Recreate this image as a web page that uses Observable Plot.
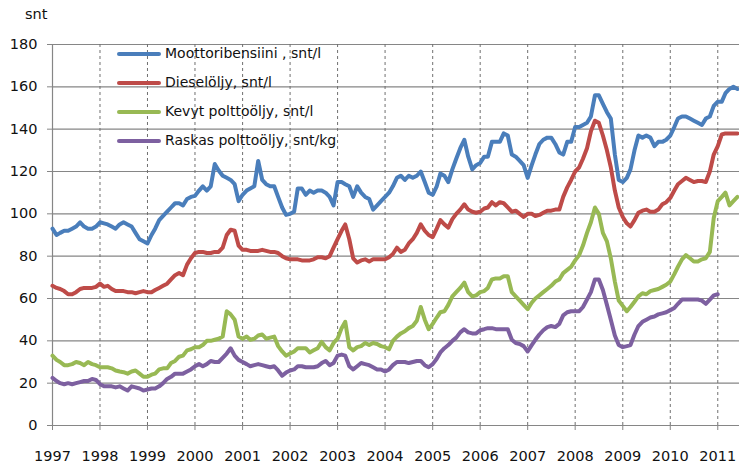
<!DOCTYPE html>
<html>
<head>
<meta charset="utf-8">
<script src="https://cdn.jsdelivr.net/npm/d3@7"></script>
<script src="https://cdn.jsdelivr.net/npm/@observablehq/plot@0.6"></script>
<style>
  html, body { margin: 0; padding: 0; background: #fff; }
  body { font-family: "DejaVu Sans", Verdana, sans-serif; color: #111; }
  #wrap { position: relative; width: 739px; height: 464px; overflow: hidden; }
  #unit { position: absolute; left: 25px; top: 6px; font-size: 14.5px; }
  .leg { position: absolute; left: 117px; height: 20px; line-height: 20px; font-size: 14px; white-space: nowrap; }
  .leg svg { position: absolute; left: 0; top: 8px; }
  .leg span { position: absolute; left: 48px; top: 0; }
</style>
</head>
<body>
<div id="wrap">
  <div id="unit">snt</div>
  <div id="legend"></div>
</div>
<script>
// ---- data (monthly, starting January 1997) ----
const seriesNames = [
  "Moottoribensiini , snt/l",
  "Dieselöljy, snt/l",
  "Kevyt polttoöljy, snt/l",
  "Raskas polttoöljy, snt/kg"
];
const seriesColors = ["#4A7EBB", "#BE4B48", "#98B954", "#7D60A0"];

const yTicks = [0, 20, 40, 60, 80, 100, 120, 140, 160, 180];
const yearLabels = [1997, 1998, 1999, 2000, 2001, 2002, 2003, 2004, 2005, 2006, 2007, 2008, 2009, 2010, 2011];

const bensiini = [
  93, 90, 91, 92, 92, 93, 94, 96, 94, 93, 93, 94,
  96, 95.5, 95, 94, 93, 95, 96, 95, 94, 91, 88, 87,
  86, 90, 93, 97, 99, 101, 103, 105, 105, 104, 107, 108,
  108.5, 111, 113, 111, 113, 123.5, 120.5, 118, 117, 116, 114, 106,
  109, 111, 112, 113, 125, 116, 114, 113, 113, 108, 103, 99.5,
  100, 101, 112, 112, 109, 111, 110, 111, 111, 110, 108, 104,
  115, 115, 114, 113, 108, 113, 110, 108, 107, 102, 104, 106,
  108, 110, 113, 117, 118, 116, 118, 117, 118, 120, 115, 110,
  109, 113, 119, 118, 115, 121, 126, 131, 135, 127, 121, 123,
  124, 127, 127, 134, 134, 134, 138, 137, 128, 127, 125, 123,
  117, 123, 128, 133, 135, 136, 136, 133, 129, 128, 134, 134,
  141, 141, 142, 143, 146, 156, 156, 152, 148, 145, 128, 116,
  115, 117, 121, 130, 137, 136, 137, 136, 132, 134, 134, 135,
  137, 141, 145, 146, 146, 145, 144, 143, 142, 145, 146, 151,
  153, 153, 157, 159, 160, 159
];
const diesel = [
  66, 65, 64.5, 63.5, 62, 62, 63, 64.5, 65, 65, 65, 65.5,
  67, 65.5, 66, 64.5, 63.5, 63.5, 63.5, 63, 63, 62.5, 63, 63.5,
  63, 63, 64, 65, 66, 67, 69, 71, 72, 71, 76, 79,
  81.5, 82, 82, 81.5, 81.5, 82, 82, 84, 90, 92.5, 92, 85,
  83, 83, 82.5, 82.5, 82.5, 83, 82.5, 82, 82, 81.5, 80, 79,
  78.5, 78.5, 78.5, 78, 78, 78, 78.5, 79.5, 79.5, 79, 80, 84,
  88, 92, 95, 88, 79, 77, 78, 78.5, 77.5, 78.5, 78.5, 78.5,
  78.5, 79.5, 81, 84, 82, 83, 86, 88, 91, 95, 92, 90,
  89, 93, 97, 95, 93.5, 97.5, 100, 102, 104.5, 102, 101, 100.5,
  101, 102.5, 103, 105.5, 104, 105.5, 105, 103, 101, 101.5, 100, 98.5,
  100, 100, 99, 99.5, 100.5, 101.5, 101.5, 102, 102, 108, 112.5, 116,
  120, 122, 126, 131, 139, 144, 143, 137, 130, 122, 111, 103,
  98.5, 95.5, 94, 97, 100.5, 101.5, 102, 101, 101, 102, 104.5, 105.5,
  107.5, 111, 114, 115.5, 117, 116, 115, 115.5, 115.5, 115, 120, 128,
  132, 137.5, 138, 138, 138, 138
];
const kevyt = [
  33, 31, 30, 28.5, 28.5, 29, 30, 29.5, 28.5, 30, 29, 28.5,
  27.5, 27.5, 27.5, 27, 26, 25.5, 25.2, 24.5, 25.5, 26, 24.5, 23,
  23, 24, 24.5, 26.5, 27, 27, 29.5, 30.5, 32.5, 33, 35.5, 36,
  37, 37, 38, 40, 40, 40.5, 41, 42, 54, 52.5, 50, 42,
  41, 42, 40.5, 41, 42.5, 43, 41, 41.5, 42, 37.5, 35, 33,
  34, 35, 36.5, 36.5, 36.5, 34.5, 35.5, 36.5, 39.5, 37, 35.5, 39,
  41, 46, 49, 37, 35.5, 37, 37.5, 39, 38, 39, 38.5, 37.5,
  37, 36, 40, 42, 43.5, 44.5, 46, 47, 49.5, 56, 50, 45.5,
  48, 51, 53.5, 54, 57, 61, 63, 65, 67.5, 63, 61, 61.5,
  63, 63.5, 65, 69, 69.5, 69.5, 70.5, 70.5, 63, 61, 59, 57,
  55, 58, 60, 61.5, 63, 64.5, 66, 68, 69, 72, 73.5, 75,
  78, 80.5, 85, 91, 96, 103, 100, 91, 87, 79, 68, 59,
  56.5, 54, 56, 58.5, 61, 62.5, 62, 63.5, 64, 64.5, 65.5, 66.5,
  68, 71.5, 75, 78.5, 80.5, 79, 77.5, 77.5, 78.5, 79, 82, 98,
  106, 108, 110, 104, 106, 108
];
const raskas = [
  22.5, 21, 20, 19.5, 20, 19.5, 20, 20.5, 21, 21, 22, 21.5,
  19.5, 18.5, 18.5, 18.5, 18, 18.5, 17.5, 16.5, 18.5, 18, 17.5, 16.5,
  17, 17.5, 17.5, 18.5, 20, 22, 23, 24.5, 24.5, 24.5, 25.5, 26.5,
  28, 29, 28, 29, 30.5, 30, 30, 32, 34, 36.5, 33, 31,
  30, 29, 28, 28.5, 29, 28.5, 28, 27.5, 28, 26, 23.5, 25,
  26, 26.5, 28, 28, 27.5, 27.5, 27.5, 28, 29.5, 30.5, 28.5, 29.5,
  33, 33.5, 33, 28, 26.5, 28, 29.5, 29, 28.5, 27.5, 26.5, 26.5,
  25.5, 26.5, 28.5, 30, 30, 30, 29.5, 30, 30.5, 30.5, 28.5, 27.5,
  29, 31.5, 34.5, 36.5, 38, 40, 41.5, 44, 45.5, 44, 43.5, 43.5,
  45, 45.5, 46, 46, 45.5, 45.5, 45.5, 45.5, 40.5, 39, 38.5, 37.5,
  35, 38, 40.5, 43, 45, 46.5, 47, 46.5, 48, 52, 53.5, 54,
  54, 54, 56, 59.5, 63, 69, 69, 64, 57, 50, 42.5, 38,
  37, 37.5, 38, 43, 47, 49, 50, 51, 51.5, 52.5, 53, 53.5,
  54.5, 55.5, 57.5, 59.5, 59.5, 59.5, 59.5, 59.5, 59, 57.5, 59.5, 61.5,
  62
];

// ---- build table ----
const allSeries = [bensiini, diesel, kevyt, raskas];
const rows = [];
allSeries.forEach((vals, s) => {
  vals.forEach((v, i) => rows.push({ date: new Date(Date.UTC(1997, i, 1)), value: v, name: seriesNames[s] }));
});
const yearDates = yearLabels.map(y => new Date(Date.UTC(y, 0, 1)));

const grid = "#868686";
const chart = Plot.plot({
  width: 739,
  height: 464,
  marginLeft: 52,
  marginRight: 0,
  marginTop: 44,
  marginBottom: 39,
  style: { fontFamily: "'DejaVu Sans', Verdana, sans-serif", fontSize: "14.5px", color: "#111", background: "transparent" },
  x: { type: "utc", domain: [new Date(Date.UTC(1997, 0, 1)), new Date(Date.UTC(2011, 5, 17))] },
  y: { domain: [0, 180] },
  color: { domain: seriesNames, range: seriesColors },
  marks: [
    Plot.gridY({ ticks: yTicks, stroke: grid, strokeOpacity: 1, strokeWidth: 1.2 }),
    Plot.gridX({ ticks: yearDates.slice(1), stroke: "#707070", strokeOpacity: 1, strokeWidth: 1, strokeDasharray: "3,3" }),
    Plot.gridX({ ticks: yearDates.slice(0, 1), stroke: grid, strokeOpacity: 1, strokeWidth: 1.2 }),
    Plot.axisY({ ticks: yTicks, tickSize: 5, tickPadding: 10, label: null, stroke: grid, fill: "#111" }),
    Plot.axisX({ ticks: yearDates, tickFormat: d => String(d.getUTCFullYear()), tickSize: 5, tickPadding: 20, label: null, stroke: grid, fill: "#111" }),
    Plot.line(rows, { x: "date", y: "value", z: "name", stroke: "name", strokeWidth: 4, strokeLinejoin: "round", strokeLinecap: "round", curve: "linear" })
  ]
});
const wrap = document.getElementById("wrap");
chart.style.position = "absolute";
chart.style.left = "0";
chart.style.top = "0";
wrap.insertBefore(chart, wrap.firstChild);

// ---- legend (inside plot, top-left) ----
const legendTops = [43, 72, 101, 130];
const legend = document.getElementById("legend");
seriesNames.forEach((name, i) => {
  const row = document.createElement("div");
  row.className = "leg";
  row.style.top = legendTops[i] + "px";
  row.innerHTML = `<svg width="44" height="6"><line x1="2" y1="3" x2="42" y2="3" stroke="${seriesColors[i]}" stroke-width="4" stroke-linecap="round"/></svg><span>${name}</span>`;
  legend.appendChild(row);
});
</script>
</body>
</html>
